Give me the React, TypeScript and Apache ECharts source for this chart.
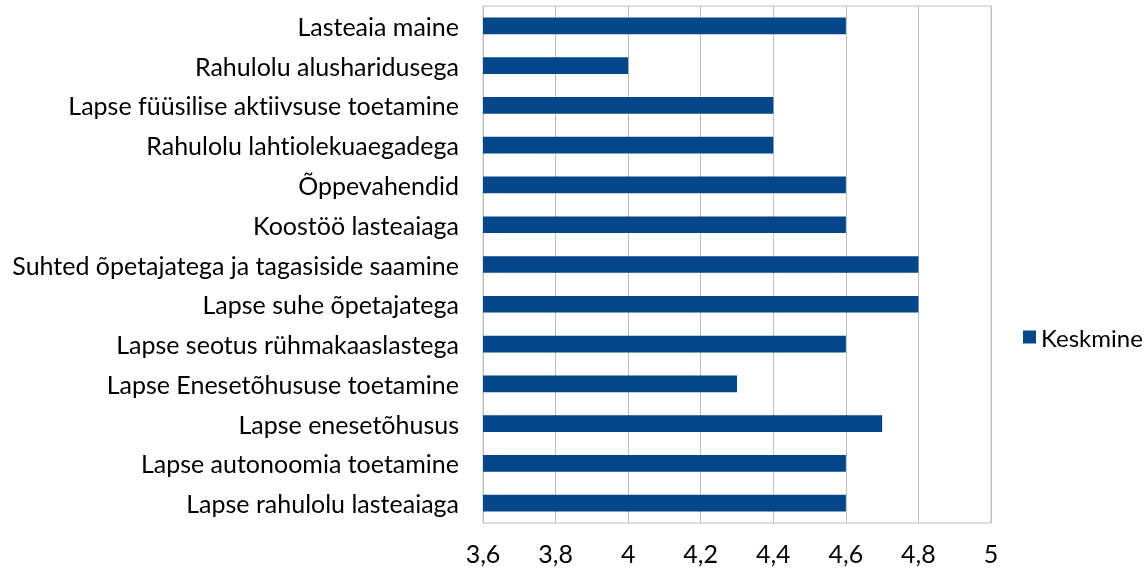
import React, { useEffect, useRef } from "react";
import * as echarts from "echarts";

const categories = [
  "Lapse rahulolu lasteaiaga",
  "Lapse autonoomia toetamine",
  "Lapse enesetõhusus",
  "Lapse Enesetõhususe toetamine",
  "Lapse seotus rühmakaaslastega",
  "Lapse suhe õpetajatega",
  "Suhted õpetajatega ja tagasiside saamine",
  "Koostöö lasteaiaga",
  "Õppevahendid",
  "Rahulolu lahtiolekuaegadega",
  "Lapse füüsilise aktiivsuse toetamine",
  "Rahulolu alusharidusega",
  "Lasteaia maine",
];
const keskmine = [4.6, 4.6, 4.7, 4.3, 4.6, 4.8, 4.8, 4.6, 4.6, 4.4, 4.4, 4.0, 4.6];
const seriesName = "Keskmine";

export default function App() {
  const ref = useRef<HTMLDivElement>(null);
  useEffect(() => {
    const chart = echarts.init(ref.current!, null, { renderer: "svg" });
    const font = "Lato, 'Open Sans', sans-serif";
    chart.setOption({
      animation: false,
      textStyle: { fontFamily: font },
      grid: {
        left: 483,
        right: 156,
        top: 6,
        bottom: 46,
        show: true,
        borderColor: "#bfbfbf",
        borderWidth: 1,
      },
      legend: {
        data: [seriesName],
        left: 1018,
        top: 320,
        icon: "rect",
        itemWidth: 13,
        itemHeight: 13,
        itemGap: 5,
        textStyle: { fontSize: 24, color: "#000", fontFamily: font },
      },
      xAxis: {
        type: "value",
        min: 3.6,
        max: 5,
        interval: 0.2,
        axisLine: { show: false },
        axisTick: { show: false },
        splitLine: { show: true, lineStyle: { color: "#bfbfbf", width: 1 } },
        axisLabel: {
          fontSize: 25,
          color: "#000",
          margin: 17,
          fontFamily: font,
          formatter: (v: number) => String(Math.round(v * 10) / 10).replace(".", ","),
        },
      },
      yAxis: {
        type: "category",
        data: categories,
        axisLine: { show: true, lineStyle: { color: "#bfbfbf" } },
        axisTick: { show: false },
        splitLine: { show: false },
        axisLabel: { fontSize: 25, color: "#000", margin: 24, fontFamily: font },
      },
      series: [
        {
          name: seriesName,
          type: "bar",
          data: keskmine,
          barWidth: "42%",
          itemStyle: { color: "#03468a" },
        },
      ],
    });
    return () => chart.dispose();
  }, []);
  return (
    <div
      ref={ref}
      style={{
        position: "fixed",
        left: 0,
        top: 0,
        width: 1147,
        height: 569,
        fontVariantLigatures: "none",
      }}
    />
  );
}
